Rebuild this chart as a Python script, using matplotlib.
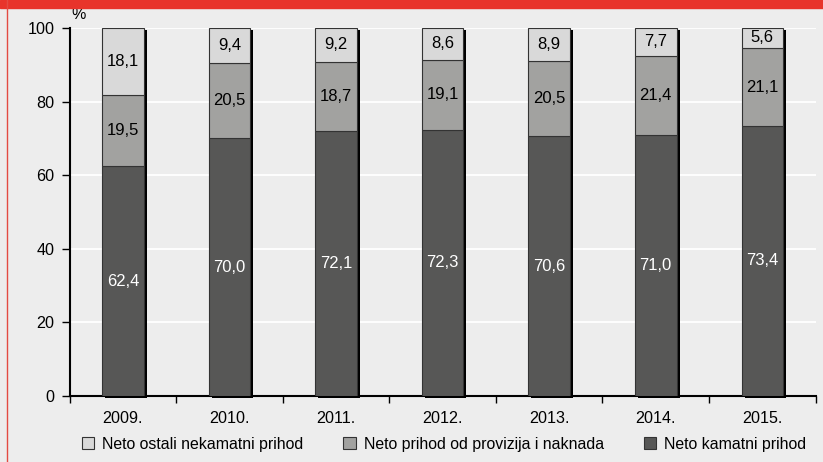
import matplotlib
matplotlib.use('Agg')
import matplotlib.pyplot as plt
import numpy as np
from matplotlib.patches import Patch, Rectangle
from matplotlib.lines import Line2D
from matplotlib.transforms import offset_copy

plt.rcParams['font.family'] = ['Liberation Sans', 'DejaVu Sans']

# data
years = ["2009.", "2010.", "2011.", "2012.", "2013.", "2014.", "2015."]
kamatni = [62.4, 70.0, 72.1, 72.3, 70.6, 71.0, 73.4]
provizije = [19.5, 20.5, 18.7, 19.1, 20.5, 21.4, 21.1]
ostali = [18.1, 9.4, 9.2, 8.6, 8.9, 7.7, 5.6]
labels = ["Neto ostali nekamatni prihod", "Neto prihod od provizija i naknada", "Neto kamatni prihod"]

bg = "#ededed"
colors = ["#d9d9d9", "#a2a2a0", "#575756"]
edge = "#333333"
width = 0.39

fig = plt.figure(figsize=(8.23, 4.62), dpi=100, facecolor=bg)
ax = fig.add_axes([0.0845, 0.1429, 0.9065, 0.7965], facecolor=bg)

x = np.arange(len(years))
bottom1 = np.array(kamatni)
bottom2 = bottom1 + np.array(provizije)
total = bottom2 + np.array(ostali)

# shadow
shadow_tr = offset_copy(ax.transData, fig=fig, x=3, y=-2, units='dots')
ax.bar(x, total, width, color="black", transform=shadow_tr, zorder=2, clip_on=False)

ax.bar(x, kamatni, width, color=colors[2], edgecolor=edge, linewidth=0.8, zorder=3)
ax.bar(x, provizije, width, bottom=bottom1, color=colors[1], edgecolor=edge, linewidth=0.8, zorder=3)
ax.bar(x, ostali, width, bottom=bottom2, color=colors[0], edgecolor=edge, linewidth=0.8, zorder=3)

fmt = lambda v: ("%.1f" % v).replace('.', ',')
fs = 12
for i in range(len(years)):
    ax.text(x[i], kamatni[i] / 2, fmt(kamatni[i]), ha='center', va='center',
            color='white', fontsize=fs, zorder=4)
    ax.text(x[i], bottom1[i] + provizije[i] / 2, fmt(provizije[i]), ha='center', va='center',
            color='black', fontsize=fs, zorder=4)
    ax.text(x[i], bottom2[i] + ostali[i] / 2, fmt(ostali[i]), ha='center', va='center',
            color='black', fontsize=fs, zorder=4)

ax.set_xlim(-0.5, len(years) - 0.5)
ax.set_ylim(0, 100)
ax.set_yticks([0, 20, 40, 60, 80, 100])
ax.yaxis.grid(True, color='white', linewidth=1.3, zorder=0)
ax.set_axisbelow(True)

ax.set_xticks(np.arange(-0.5, len(years), 1.0))
ax.set_xticklabels([])
ax.set_xticks(x, minor=True)
ax.set_xticklabels(years, minor=True)
ax.tick_params(axis='x', which='major', length=5, width=1, direction='out')
ax.tick_params(axis='x', which='minor', length=0, pad=11, labelsize=11.6)
ax.tick_params(axis='y', length=6, width=1, direction='out', labelsize=11.6, pad=5)

for s in ['top', 'right']:
    ax.spines[s].set_visible(False)
ax.spines['left'].set_linewidth(1.5)
ax.spines['bottom'].set_linewidth(1.5)

ax.text(0.002, 1.015, "%", transform=ax.transAxes, fontsize=11.6, ha='left', va='bottom')

handles = [Patch(facecolor=c, edgecolor=edge, linewidth=0.8) for c in colors]
fig.legend(handles, labels, loc='center', bbox_to_anchor=(0.5395, 0.038), ncol=3,
           frameon=False, fontsize=11.4, handlelength=0.8, handleheight=0.8,
           handletextpad=0.5, columnspacing=2.5, borderaxespad=0, borderpad=0)

# red band and frame
fig.patches.append(Rectangle((0, 1 - 8 / 462), 1, 8 / 462, transform=fig.transFigure,
                             color="#e8342b", zorder=0))
fig.lines.append(Line2D([7.5 / 823, 7.5 / 823], [0, 1], transform=fig.transFigure,
                        color="#e34b43", linewidth=1))

fig.savefig("out.png", dpi=100, facecolor=bg)
